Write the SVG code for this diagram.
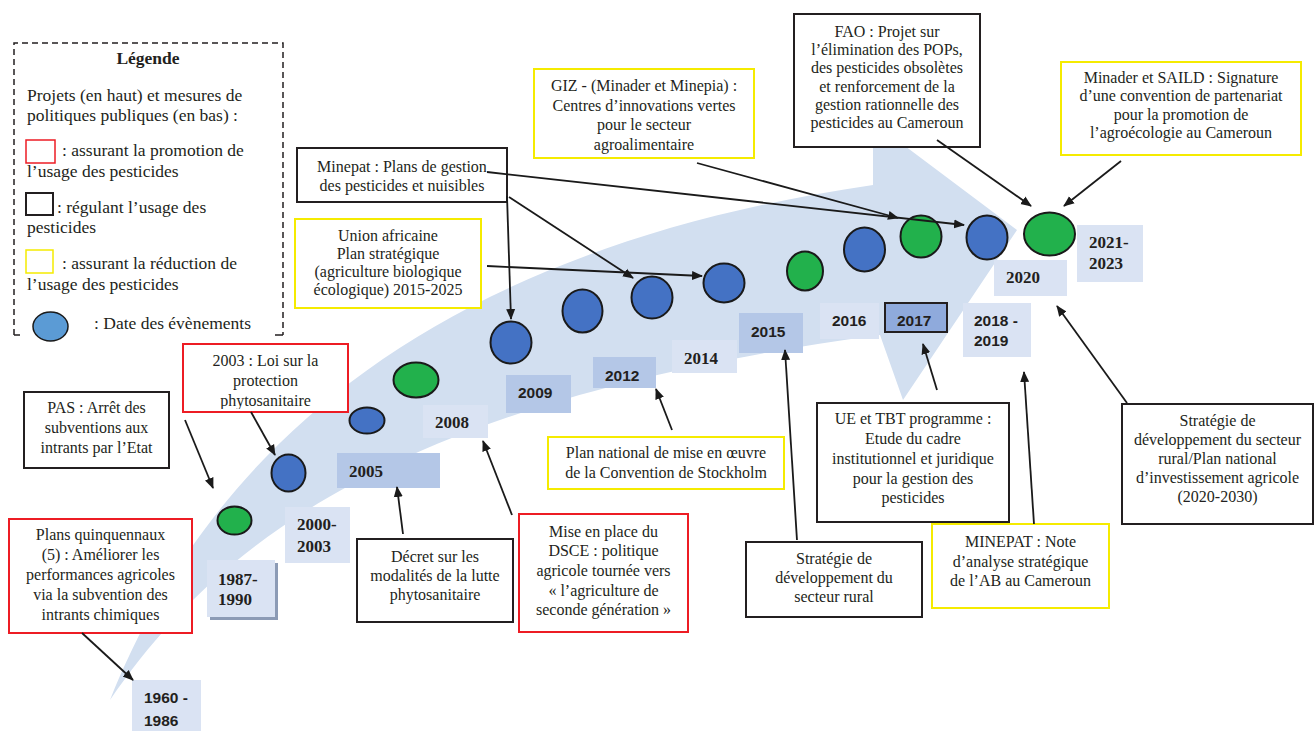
<svg xmlns="http://www.w3.org/2000/svg" width="1315" height="731" viewBox="0 0 1315 731">
<defs>
<marker id="ah" viewBox="0 0 11 11" refX="10" refY="5.5" markerWidth="11" markerHeight="11" markerUnits="userSpaceOnUse" orient="auto"><path d="M0,1 L11,5.5 L0,10 z" fill="#1a1a1a"/></marker>
<clipPath id="c2003"><rect x="184" y="345" width="163" height="64"/></clipPath>
<style>
.box{fill:#fff;stroke-width:2}
.red{stroke:#ed1c24}
.blk{stroke:#231f20}
.yel{stroke:#f5eb00}
.t{font-family:"Liberation Serif","Times New Roman",serif;font-size:16px;fill:#231f20;text-anchor:middle}
.lg{font-family:"Liberation Serif","Times New Roman",serif;font-size:17.5px;fill:#231f20}
.ds{font-family:"Liberation Sans",Arial,sans-serif;font-weight:bold;font-size:15.5px;fill:#231f20}
.dt{font-family:"Liberation Serif","Times New Roman",serif;font-weight:bold;font-size:17px;fill:#231f20}
.l1{fill:#dae3f3}
.l2{fill:#b4c7e7}
.cb{fill:#4472c4;stroke:#1a1a1a;stroke-width:2}
.cg{fill:#22b14c;stroke:#1a1a1a;stroke-width:2}
.conn path{stroke:#1a1a1a;stroke-width:1.8;fill:none;marker-end:url(#ah)}
</style>
</defs>
<rect width="1315" height="731" fill="#fff"/>

<!-- big curved arrow -->
<path id="timeline-arrow" d="M110,700 C210,450 430,250 873,185 L873,122 L1017,230 L903,400 L880,335 C400,400 220,540 110,700 Z" fill="#d2dff0"/>

<!-- legend -->
<g id="legend">
<path d="M14,335 V43 H283 V335" fill="none" stroke="#231f20" stroke-width="1.5" stroke-dasharray="6,4"/>
<path d="M14,335 H20 M275,335 H283" fill="none" stroke="#231f20" stroke-width="1.5"/>
<text class="lg" x="148" y="64" text-anchor="middle" font-weight="bold">Légende</text>
<text class="lg" x="27" y="101">Projets (en haut) et mesures de</text>
<text class="lg" x="27" y="121">politiques publiques (en bas) :</text>
<rect x="26" y="140" width="29" height="23" fill="#fff" stroke="#ed1c24" stroke-width="1.5"/>
<text class="lg" x="62" y="156">: assurant la promotion de</text>
<text class="lg" x="27" y="177">l’usage des pesticides</text>
<rect x="26" y="193" width="27" height="22" fill="#fff" stroke="#231f20" stroke-width="2"/>
<text class="lg" x="57" y="213">: régulant l’usage des</text>
<text class="lg" x="27" y="233">pesticides</text>
<rect x="26" y="250" width="27" height="23" fill="#fff" stroke="#f5eb00" stroke-width="1.5"/>
<text class="lg" x="62" y="269">:  assurant la réduction de</text>
<text class="lg" x="27" y="290">l’usage des pesticides</text>
<ellipse cx="50.5" cy="326.5" rx="17.5" ry="14.5" fill="#5b9bd5" stroke="#1a1a1a" stroke-width="1.5"/>
<text class="lg" x="94" y="329">: Date des évènements</text>
</g>

<!-- date labels -->
<g id="date-1960"><rect class="l1" x="132" y="680" width="69" height="51"/><text class="ds" x="144" y="703">1960 -</text><text class="ds" x="144" y="726">1986</text></g>
<g id="date-1987"><rect x="210" y="563" width="68" height="57" fill="#8c9bb5"/><rect class="l1" x="207" y="560" width="68" height="57"/><text class="dt" x="218" y="585">1987-</text><text class="dt" x="218" y="605">1990</text></g>
<g id="date-2000"><rect class="l1" x="285" y="507" width="65" height="56"/><text class="dt" x="297" y="530">2000-</text><text class="dt" x="297" y="552">2003</text></g>
<g id="date-2005"><rect class="l2" x="337" y="453" width="103" height="35"/><text class="dt" x="349" y="477">2005</text></g>
<g id="date-2008"><rect class="l1" x="423" y="405" width="65" height="33"/><text class="dt" x="435" y="428">2008</text></g>
<g id="date-2009"><rect class="l2" x="506" y="375" width="65" height="38"/><text class="ds" x="518" y="398">2009</text></g>
<g id="date-2012"><rect class="l2" x="593" y="357" width="63" height="31"/><text class="ds" x="605" y="381">2012</text></g>
<g id="date-2014"><rect class="l1" x="672" y="340" width="65" height="33"/><text class="dt" x="684" y="364">2014</text></g>
<g id="date-2015"><rect class="l2" x="739" y="313" width="64" height="40"/><text class="ds" x="751" y="337">2015</text></g>
<g id="date-2016"><rect class="l1" x="820" y="303" width="59" height="36"/><text class="ds" x="832" y="326">2016</text></g>
<g id="date-2017"><rect x="885" y="303" width="62" height="29" fill="#8faadc" stroke="#231f20" stroke-width="2"/><text class="ds" x="897" y="326">2017</text></g>
<g id="date-2018"><rect class="l1" x="963" y="303" width="68" height="54"/><text class="ds" x="974" y="326">2018 -</text><text class="ds" x="974" y="346">2019</text></g>
<g id="date-2020"><rect class="l1" x="994" y="260" width="73" height="36"/><text class="dt" x="1006" y="283">2020</text></g>
<g id="date-2021"><rect class="l1" x="1077" y="225" width="66" height="57"/><text class="dt" x="1089" y="248">2021-</text><text class="dt" x="1089" y="269">2023</text></g>

<!-- event circles -->
<g id="events">
<ellipse id="ev-1987" class="cg" cx="234.5" cy="520.5" rx="17" ry="14"/>
<ellipse id="ev-2000" class="cb" cx="288.5" cy="473" rx="17" ry="18.5"/>
<ellipse id="ev-2005" class="cb" cx="367" cy="420.5" rx="17.5" ry="13"/>
<ellipse id="ev-2008" class="cg" cx="416" cy="380" rx="22.5" ry="17.5"/>
<ellipse id="ev-2009" class="cb" cx="511" cy="342.5" rx="20.5" ry="21"/>
<ellipse id="ev-2011" class="cb" cx="582.5" cy="311" rx="20" ry="21.5"/>
<ellipse id="ev-2012" class="cb" cx="652" cy="297.5" rx="20.5" ry="21"/>
<ellipse id="ev-2014" class="cb" cx="724" cy="283" rx="20.5" ry="19.5"/>
<ellipse id="ev-2015" class="cg" cx="805" cy="271" rx="18" ry="19.5"/>
<ellipse id="ev-2016" class="cb" cx="864.5" cy="249.5" rx="20.5" ry="22"/>
<ellipse id="ev-2017" class="cg" cx="921" cy="236.5" rx="20.5" ry="21"/>
<ellipse id="ev-2018" class="cb" cx="987" cy="237.5" rx="20.5" ry="22"/>
<ellipse id="ev-2021" class="cg" cx="1049.5" cy="234" rx="25.5" ry="21.5"/>
</g>

<!-- text boxes -->
<g id="box-plans"><rect class="box red" x="9" y="519" width="183" height="114"/>
<text class="t" x="100.5" y="540">Plans quinquennaux</text><text class="t" x="100.5" y="560">(5) : Améliorer les</text><text class="t" x="100.5" y="580">performances agricoles</text><text class="t" x="100.5" y="600">via la subvention des</text><text class="t" x="100.5" y="620">intrants chimiques</text></g>

<g id="box-pas"><rect class="box blk" x="24" y="392" width="145" height="76"/>
<text class="t" x="96.5" y="413">PAS : Arrêt des</text><text class="t" x="96.5" y="433">subventions aux</text><text class="t" x="96.5" y="453">intrants par l’Etat</text></g>

<g id="box-loi2003"><rect class="box red" x="183" y="344" width="165" height="68"/>
<g clip-path="url(#c2003)"><text class="t" x="265.5" y="366">2003 : Loi sur la</text><text class="t" x="265.5" y="386">protection</text><text class="t" x="265.5" y="406">phytosanitaire</text></g></g>

<g id="box-minepat-plans"><rect class="box blk" x="297" y="148" width="210" height="54"/>
<text class="t" x="402" y="172">Minepat : Plans de gestion</text><text class="t" x="402" y="191">des pesticides et nuisibles</text></g>

<g id="box-union"><rect class="box yel" x="295" y="219" width="186" height="89"/>
<text class="t" x="388" y="241">Union africaine</text><text class="t" x="388" y="259">Plan stratégique</text><text class="t" x="388" y="277">(agriculture biologique</text><text class="t" x="388" y="295">écologique) 2015-2025</text></g>

<g id="box-giz"><rect class="box yel" x="534" y="69" width="220" height="89"/>
<text class="t" x="644" y="91">GIZ - (Minader et Minepia) :</text><text class="t" x="644" y="111">Centres d’innovations vertes</text><text class="t" x="644" y="130">pour le secteur</text><text class="t" x="644" y="150">agroalimentaire</text></g>

<g id="box-fao"><rect class="box blk" x="794" y="14" width="186" height="133"/>
<text class="t" x="887" y="37">FAO : Projet sur</text><text class="t" x="887" y="55">l’élimination des POPs,</text><text class="t" x="887" y="73">des pesticides obsolètes</text><text class="t" x="887" y="92">et renforcement de la</text><text class="t" x="887" y="110">gestion rationnelle des</text><text class="t" x="887" y="128">pesticides au Cameroun</text></g>

<g id="box-saild"><rect class="box yel" x="1061" y="62" width="240" height="93"/>
<text class="t" x="1181" y="83">Minader et SAILD : Signature</text><text class="t" x="1181" y="101">d’une convention de partenariat</text><text class="t" x="1181" y="120">pour la promotion de</text><text class="t" x="1181" y="138">l’agroécologie au Cameroun</text></g>

<g id="box-plan-national"><rect class="box yel" x="548" y="437" width="236" height="52"/>
<text class="t" x="666" y="458">Plan national de mise en œuvre</text><text class="t" x="666" y="478">de la Convention de Stockholm</text></g>

<g id="box-decret"><rect class="box blk" x="357" y="539" width="156" height="83"/>
<text class="t" x="435" y="562">Décret sur les</text><text class="t" x="435" y="581">modalités de la lutte</text><text class="t" x="435" y="600">phytosanitaire</text></g>

<g id="box-dsce"><rect class="box red" x="519" y="514" width="169" height="118"/>
<text class="t" x="603.5" y="537">Mise en place du</text><text class="t" x="603.5" y="556">DSCE : politique</text><text class="t" x="603.5" y="576">agricole tournée vers</text><text class="t" x="603.5" y="596">« l’agriculture de</text><text class="t" x="603.5" y="615">seconde génération »</text></g>

<g id="box-strategie-rural"><rect class="box blk" x="746" y="542" width="176" height="75"/>
<text class="t" x="834" y="564">Stratégie de</text><text class="t" x="834" y="583">développement du</text><text class="t" x="834" y="602">secteur rural</text></g>

<g id="box-ue-tbt"><rect class="box blk" x="817" y="403" width="192" height="119"/>
<text class="t" x="913" y="424">UE et TBT programme :</text><text class="t" x="913" y="444">Etude du cadre</text><text class="t" x="913" y="464">institutionnel et juridique</text><text class="t" x="913" y="484">pour la gestion des</text><text class="t" x="913" y="503">pesticides</text></g>

<g id="box-minepat-note"><rect class="box yel" x="932" y="524" width="177" height="84"/>
<text class="t" x="1020.5" y="547">MINEPAT : Note</text><text class="t" x="1020.5" y="567">d’analyse stratégique</text><text class="t" x="1020.5" y="586">de l’AB au Cameroun</text></g>

<g id="box-strategie-2030"><rect class="box blk" x="1122" y="404" width="191" height="120"/>
<text class="t" x="1217.5" y="426">Stratégie de</text><text class="t" x="1217.5" y="445">développement du secteur</text><text class="t" x="1217.5" y="464">rural/Plan national</text><text class="t" x="1217.5" y="483">d’investissement agricole</text><text class="t" x="1217.5" y="502">(2020-2030)</text></g>

<!-- connectors -->
<g id="connectors" class="conn">
<path d="M82,633 L133,680"/>
<path d="M185,420 L213,488"/>
<path d="M251,412 L275,455"/>
<path d="M403,534 L397,487"/>
<path d="M512,515 L483,441"/>
<path d="M507,196 L511,319"/>
<path d="M509,197 L633,278"/>
<path d="M487,172 L964,225"/>
<path d="M487,266 L702,276"/>
<path d="M672,430 L656,389"/>
<path d="M697,163 L898,218"/>
<path d="M797,540 L785,350"/>
<path d="M937,390 L923,344"/>
<path d="M1034,524 L1024,372"/>
<path d="M937,140 L1031,206"/>
<path d="M1121,161 L1064,206"/>
<path d="M1127,403 L1057,306"/>
</g>
</svg>
